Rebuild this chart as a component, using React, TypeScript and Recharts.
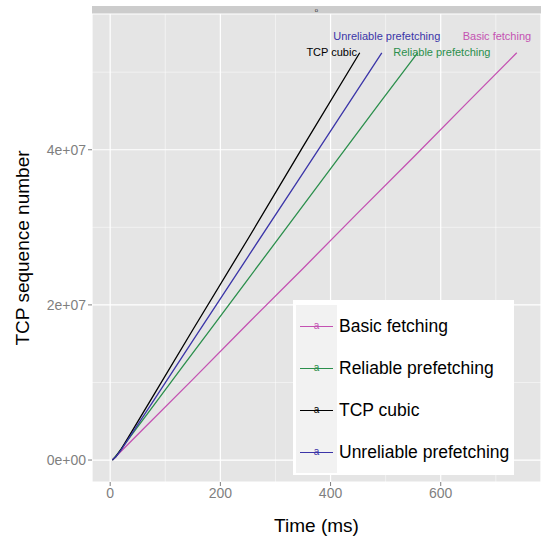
import { LineChart, Line, XAxis, YAxis, CartesianGrid, ReferenceLine, ReferenceDot, Label } from 'recharts';

const basicTime = [4, 60, 150, 250, 350, 450, 550, 650, 738];
const basicSeq = [0, 4.0e6, 1.04e7, 1.76e7, 2.47e7, 3.19e7, 3.9e7, 4.62e7, 5.25e7];

const reliableTime = [4, 15, 40, 80, 130, 190, 250, 310, 370, 430, 490, 558];
const reliableSeq = [0, 9.5e5, 3.35e6, 7.15e6, 1.19e7, 1.76e7, 2.33e7, 2.9e7, 3.47e7, 4.04e7, 4.61e7, 5.25e7];

const cubicTime = [4, 10, 20, 40, 80, 150, 250, 350, 453];
const cubicSeq = [0, 4e5, 1.4e6, 3.76e6, 8.5e6, 1.68e7, 2.85e7, 4.04e7, 5.25e7];

const unreliableTime = [4, 10, 20, 40, 80, 150, 250, 350, 493];
const unreliableSeq = [0, 4e5, 1.3e6, 3.47e6, 7.8e6, 1.54e7, 2.62e7, 3.7e7, 5.25e7];

const seriesNames = ['Basic fetching', 'Reliable prefetching', 'TCP cubic', 'Unreliable prefetching'];
const seriesColors = ['#c452b2', '#2b8f4c', '#000000', '#3b35a8'];

// text labels placed at the line ends
const labelTime = [702, 602, 402, 502];
const labelSeq = [5.47e7, 5.26e7, 5.26e7, 5.47e7];

const xTicks = [0, 200, 400, 600];
const xMinor = [100, 300, 500, 700];
const yTicks = [0, 2e7, 4e7];
const yTickLabels = ['0e+00', '2e+07', '4e+07'];
const yMinor = [1e7, 3e7, 5e7];

const rows = (t: number[], s: number[]) => t.map((x, i) => ({ t: x, seq: s[i] }));
const seriesData = [
  rows(basicTime, basicSeq),
  rows(reliableTime, reliableSeq),
  rows(cubicTime, cubicSeq),
  rows(unreliableTime, unreliableSeq),
];

const font = '"Liberation Sans", Arial, sans-serif';

function LegendBox() {
  return (
    <div style={{ position: 'absolute', left: 293, top: 300, background: '#fff', width: 221, height: 175, padding: '5px 0 0 3px', boxSizing: 'border-box', fontFamily: font }}>
      {seriesNames.map((name, i) => (
        <div key={name} style={{ display: 'flex', alignItems: 'center', height: 42 }}>
          <div style={{ width: 41, height: 42, background: '#f2f2f2', position: 'relative' }}>
            <div style={{ position: 'absolute', left: 4, right: 4, top: 21, height: 1, background: seriesColors[i] }} />
            <div style={{ position: 'absolute', left: 0, right: 0, top: 15, textAlign: 'center', fontSize: 10, lineHeight: '12px', color: seriesColors[i] }}>a</div>
          </div>
          <span style={{ marginLeft: 2, fontSize: 17.5, color: '#000' }}>{name}</span>
        </div>
      ))}
    </div>
  );
}

export default function App() {
  return (
    <div style={{ position: 'absolute', left: 0, top: 0, width: 542, height: 536, background: '#fff' }}>
      <div style={{ position: 'absolute', left: 92, top: 6, width: 449, height: 8, background: '#cccccc', fontFamily: font, fontSize: 6, color: '#333', textAlign: 'center', lineHeight: '8px' }}>o</div>
      <LineChart width={542} height={536} margin={{ top: 14, right: 1, left: 0, bottom: 0 }} style={{ fontFamily: font }}>
        <CartesianGrid stroke="#ffffff" strokeWidth={1.2} fill="#e5e5e5" />
        {xMinor.map(v => (
          <ReferenceLine key={'x' + v} x={v} stroke="#ffffff" strokeWidth={0.5} />
        ))}
        {yMinor.map(v => (
          <ReferenceLine key={'y' + v} y={v} stroke="#ffffff" strokeWidth={0.5} />
        ))}
        <XAxis
          dataKey="t"
          type="number"
          domain={[-33, 782]}
          allowDataOverflow
          ticks={xTicks}
          axisLine={false}
          tickLine={{ stroke: '#7f7f7f' }}
          tickSize={4}
          tick={{ fill: '#7f7f7f', fontSize: 14 }}
          height={54}
        >
          <Label value="Time (ms)" position="insideBottom" offset={4} style={{ fontSize: 19, fill: '#000' }} />
        </XAxis>
        <YAxis
          type="number"
          domain={[-2.83e6, 5.75e7]}
          allowDataOverflow
          ticks={yTicks}
          tickFormatter={(v: number) => yTickLabels[yTicks.indexOf(v)] ?? ''}
          axisLine={false}
          tickLine={{ stroke: '#7f7f7f' }}
          tickSize={4}
          tick={{ fill: '#7f7f7f', fontSize: 14 }}
          width={92}
        >
          <Label value="TCP sequence number" angle={-90} position="insideLeft" offset={22} style={{ fontSize: 19, fill: '#000', textAnchor: 'middle' }} />
        </YAxis>
        {seriesData.map((d, i) => (
          <Line
            key={seriesNames[i]}
            data={d}
            dataKey="seq"
            name={seriesNames[i]}
            type="linear"
            stroke={seriesColors[i]}
            strokeWidth={1.3}
            dot={false}
            isAnimationActive={false}
          />
        ))}
        {seriesNames.map((name, i) => (
          <ReferenceDot
            key={'lab' + name}
            x={labelTime[i]}
            y={labelSeq[i]}
            r={0}
            ifOverflow="visible"
            label={{ value: name, position: 'center', fill: seriesColors[i], fontSize: 11 }}
          />
        ))}
      </LineChart>
      <LegendBox />
    </div>
  );
}
